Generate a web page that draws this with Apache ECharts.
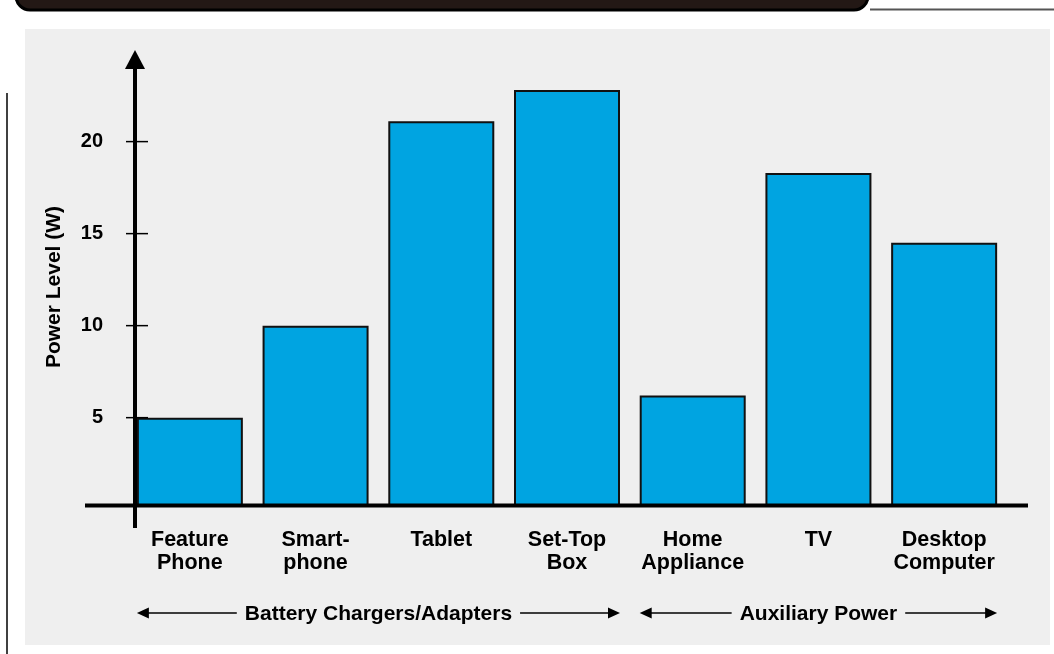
<!DOCTYPE html>
<html>
<head>
<meta charset="utf-8">
<script src="https://cdn.jsdelivr.net/npm/echarts@6/dist/echarts.min.js"></script>
<style>
  html, body { margin: 0; padding: 0; background: #fff; }
  #chart { width: 1054px; height: 654px; }
</style>
</head>
<body>
<div id="chart"></div>
<script>
const categories = ['Feature\nPhone', 'Smart-\nphone', 'Tablet', 'Set-Top\nBox', 'Home\nAppliance', 'TV', 'Desktop\nComputer'];
const powerValues = [5, 10, 21.1, 22.8, 6.2, 18.3, 14.5];
const yTicks = [5, 10, 15, 20];
const groupNames = ['Battery Chargers/Adapters', 'Auxiliary Power'];
const groupRanges = [[0, 3], [4, 6]];

const font = '"Liberation Sans", Arial, Helvetica, sans-serif';
const barW = 106;

const chart = echarts.init(document.getElementById('chart'));

const option = {
  backgroundColor: '#fff',
  animation: false,
  grid: { left: 127, right: 47, top: 68, bottom: 148 },
  xAxis: {
    type: 'category',
    data: categories,
    axisLine: { show: false },
    axisTick: { show: false },
    axisLabel: {
      color: '#000', fontFamily: font, fontWeight: 'bold', fontSize: 21.5,
      lineHeight: 23, margin: 23, interval: 0
    }
  },
  yAxis: {
    type: 'value',
    min: 0.2,
    max: 24,
    name: 'Power Level (W)',
    nameLocation: 'middle',
    nameRotate: 90,
    nameGap: 62,
    nameTextStyle: { color: '#000', fontFamily: font, fontWeight: 'bold', fontSize: 21 },
    axisLine: { show: false },
    axisTick: { show: false },
    splitLine: { show: false },
    axisLabel: {
      customValues: yTicks,
      color: '#000', fontFamily: font, fontWeight: 'bold', fontSize: 20, margin: 24
    }
  },
  series: [{
    type: 'bar',
    data: powerValues,
    barWidth: barW,
    clip: true,
    itemStyle: { color: '#00a4e1', borderColor: '#111', borderWidth: 2 }
  }]
};
chart.setOption(option);

// decorations: frame, axes with arrow, ticks, group brackets
const g = [];
g.push({ type: 'rect', shape: { x: 25, y: 29, width: 1025, height: 616 }, style: { fill: '#efefef' }, z: -10 });
g.push({ type: 'line', shape: { x1: 7, y1: 93, x2: 7, y2: 660 }, style: { stroke: '#000', lineWidth: 1.5 } });
g.push({ type: 'rect', shape: { x: 16, y: -30, width: 852, height: 40, r: 14 }, style: { fill: '#231815', stroke: '#000', lineWidth: 3 } });
g.push({ type: 'line', shape: { x1: 870, y1: 9.5, x2: 1054, y2: 9.5 }, style: { stroke: '#555', lineWidth: 2 } });

const axisY = 505.5, axisX = 135;
g.push({ type: 'line', shape: { x1: 85, y1: axisY, x2: 1028, y2: axisY }, style: { stroke: '#000', lineWidth: 4 }, z: 10 });
g.push({ type: 'line', shape: { x1: axisX, y1: 528, x2: axisX, y2: 66 }, style: { stroke: '#000', lineWidth: 4 }, z: 10 });
g.push({ type: 'polygon', shape: { points: [[axisX, 50], [axisX - 10, 69], [axisX + 10, 69]] }, style: { fill: '#000' }, z: 10 });

yTicks.forEach(function (v) {
  const py = chart.convertToPixel({ yAxisIndex: 0 }, v);
  g.push({ type: 'line', shape: { x1: 126, y1: py, x2: 148, y2: py }, style: { stroke: '#000', lineWidth: 1.5 }, z: 10 });
});

const ctx = document.createElement('canvas').getContext('2d');
ctx.font = 'bold 21px ' + font;
const arrowY = 613;
groupRanges.forEach(function (r, i) {
  const x0 = chart.convertToPixel({ xAxisIndex: 0 }, r[0]) - barW / 2;
  const x1 = chart.convertToPixel({ xAxisIndex: 0 }, r[1]) + barW / 2;
  const cx = (x0 + x1) / 2;
  const half = ctx.measureText(groupNames[i]).width / 2 + 8;
  g.push({ type: 'text', x: cx, y: arrowY + 1, style: { text: groupNames[i], fill: '#000', font: 'bold 21px ' + font, align: 'center', verticalAlign: 'middle' } });
  g.push({ type: 'line', shape: { x1: x0 + 8, y1: arrowY, x2: cx - half, y2: arrowY }, style: { stroke: '#000', lineWidth: 1.5 } });
  g.push({ type: 'line', shape: { x1: cx + half, y1: arrowY, x2: x1 - 8, y2: arrowY }, style: { stroke: '#000', lineWidth: 1.5 } });
  g.push({ type: 'polygon', shape: { points: [[x0, arrowY], [x0 + 12, arrowY - 5.5], [x0 + 12, arrowY + 5.5]] }, style: { fill: '#000' } });
  g.push({ type: 'polygon', shape: { points: [[x1, arrowY], [x1 - 12, arrowY - 5.5], [x1 - 12, arrowY + 5.5]] }, style: { fill: '#000' } });
});

chart.setOption({ graphic: g });
</script>
</body>
</html>
